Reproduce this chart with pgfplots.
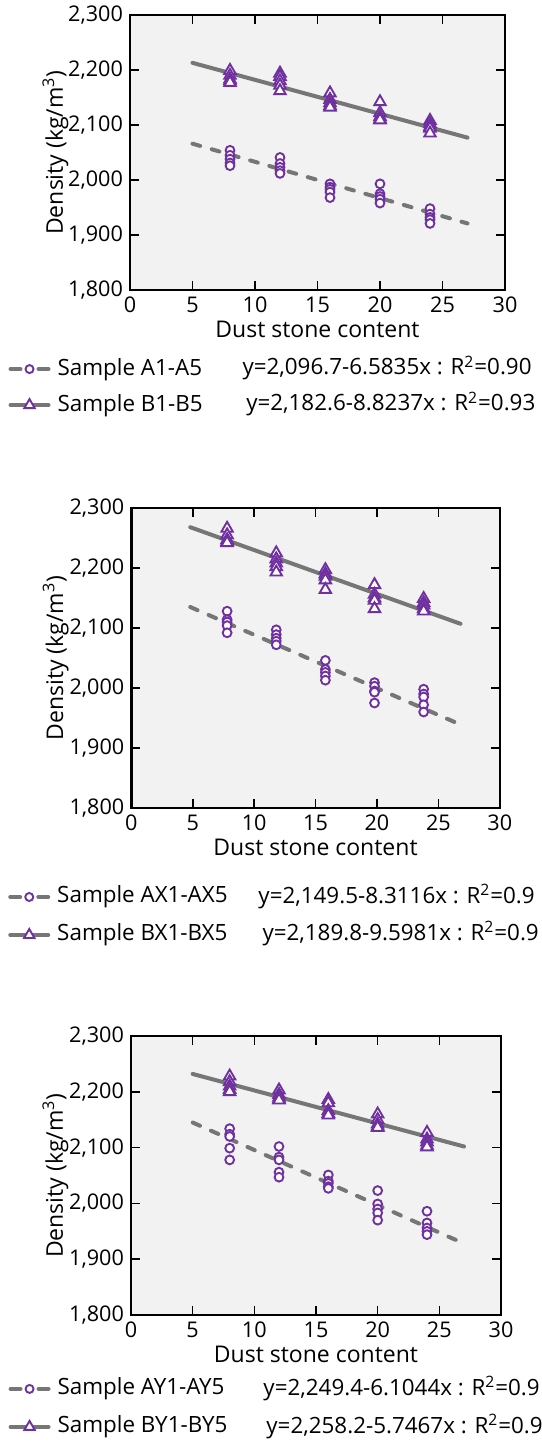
\documentclass[border=0pt]{standalone}
\usepackage{fontspec}
\setmainfont{Open Sans}
\usepackage{pgfplots}
\pgfplotsset{compat=1.18}
\definecolor{mkpurple}{RGB}{112,48,160}
\definecolor{fitgray}{RGB}{118,118,118}
\definecolor{bggray}{RGB}{242,242,242}

\tikzset{eqnode/.style={anchor=base west, inner sep=0pt, font=\fontsize{11.2}{13}\selectfont}}

\pgfplotsset{
  dsaxis/.style={
    scale only axis, anchor=north west, clip=false,
    xmin=0, xmax=30, ymin=1800, ymax=2300,
    xtick={0,5,...,30}, ytick={1800,1900,...,2300},
    axis background/.style={fill=bggray},
    axis line style={line width=1.3pt},
    major tick style={line width=0.8pt, black},
    major tick length=4.5pt, tick align=inside,
    /pgf/number format/assume math mode=true,
    /pgf/number format/1000 sep={,},
    ticklabel style={font=\fontsize{10.8}{12}\selectfont},
    label style={font=\fontsize{11.5}{13}\selectfont},
    xlabel={Dust stone content},
    ylabel={Density (kg/m\textsuperscript{3})},
    xlabel style={yshift=3pt},
    legend cell align=left,
    legend style={draw=none, fill=none, anchor=west, inner sep=0pt,
      font=\fontsize{11.2}{13}\selectfont, column sep=3.5pt,
      nodes={inner sep=0pt, text height=8.5pt, text depth=2.5pt}},
    legend image code/.code={
      \draw[mark repeat=2, mark phase=2, #1]
        plot coordinates {(0pt,0pt) (9.5pt,0pt) (19pt,0pt)};},
  },
  fitA/.style={fitgray, line width=2pt, line cap=round, dash pattern=on 4pt off 6pt},
  fitB/.style={fitgray, line width=2pt, line cap=round},
  ptsA/.style={only marks, mark=*, mark size=2.2pt,
    mark options={draw=mkpurple, fill=white, line width=0.95pt}},
  ptsB/.style={only marks, mark=triangle*, mark size=3.3pt,
    mark options={draw=mkpurple, fill=white, line width=0.95pt}},
  legA/.style={fitgray, line width=2pt, line cap=round, dash pattern=on 5pt off 9pt,
    mark=*, mark size=2pt, mark options={solid, draw=mkpurple, fill=white, line width=0.95pt}},
  legB/.style={fitgray, line width=2pt, line cap=round,
    mark=triangle*, mark size=3pt, mark options={solid, draw=mkpurple, fill=white, line width=0.95pt}},
}

\begin{document}
\begin{tikzpicture}
\useasboundingbox (0,0) rectangle (270.5pt,-721.5pt);

% ---- panel 1: A1-A5 / B1-B5
\begin{axis}[dsaxis, at={(65pt,-7.5pt)}, width=187.5pt, height=137.5pt,
  ylabel style={at={(axis description cs:-0.179,0.5)}, anchor=base},
  legend style={at={(axis description cs:-0.325,-0.353)}, row sep=7pt}]
\addlegendimage{legA}\addlegendentry{Sample A1-A5}
\addlegendimage{legB}\addlegendentry{Sample B1-B5}
\addplot[fitA, forget plot] coordinates {(5,2066) (27,1921)};
\addplot[fitB, forget plot] coordinates {(5,2213) (27,2077)};
\addplot[ptsA, forget plot] coordinates {
  (8,2054) (8,2045) (8,2038) (8,2031) (8,2026)
  (12,2041) (12,2030) (12,2023) (12,2017) (12,2012)
  (16,1993) (16,1987) (16,1983) (16,1978) (16,1968)
  (20,1993) (20,1975) (20,1970) (20,1965) (20,1958)
  (24,1948) (24,1938) (24,1932) (24,1928) (24,1921)};
\addplot[ptsB, forget plot] coordinates {
  (8,2199) (8,2190) (8,2183) (8,2180) (8,2177)
  (12,2194) (12,2188) (12,2180) (12,2172) (12,2162)
  (16,2158) (16,2146) (16,2140) (16,2135) (16,2132)
  (20,2142) (20,2122) (20,2115) (20,2111) (20,2109)
  (24,2108) (24,2102) (24,2097) (24,2094) (24,2085)};
\node[eqnode] at (axis description cs:0.299,-0.309) {y=2,096.7-6.5835x : R\textsuperscript{2}=0.90};
\node[eqnode] at (axis description cs:0.309,-0.440) {y=2,182.6-8.8237x : R\textsuperscript{2}=0.93};
\end{axis}

% ---- panel 2: AX1-AX5 / BX1-BX5
\begin{axis}[dsaxis, at={(65.65pt,-254pt)}, width=184.25pt, height=150pt,
  ylabel style={at={(axis description cs:-0.185,0.5)}, anchor=base},
  legend style={at={(axis description cs:-0.335,-0.36)}, row sep=8pt}]
\addlegendimage{legA}\addlegendentry{Sample AX1-AX5}
\addlegendimage{legB}\addlegendentry{Sample BX1-BX5}
\addplot[fitA, forget plot] coordinates {(4.8,2135) (26.8,1939)};
\addplot[fitB, forget plot] coordinates {(4.8,2268) (26.8,2107)};
\addplot[ptsA, forget plot] coordinates {
  (7.8,2128) (7.8,2114) (7.8,2110) (7.8,2104) (7.8,2092)
  (11.8,2097) (11.8,2089) (11.8,2083) (11.8,2078) (11.8,2072)
  (15.8,2046) (15.8,2031) (15.8,2026) (15.8,2020) (15.8,2013)
  (19.8,2009) (19.8,2003) (19.8,1995) (19.8,1993) (19.8,1975)
  (23.8,1998) (23.8,1990) (23.8,1985) (23.8,1972) (23.8,1960)};
\addplot[ptsB, forget plot] coordinates {
  (7.8,2266) (7.8,2255) (7.8,2247) (7.8,2244) (7.8,2242)
  (11.8,2225) (11.8,2215) (11.8,2208) (11.8,2202) (11.8,2193)
  (15.8,2197) (15.8,2190) (15.8,2186) (15.8,2180) (15.8,2164)
  (19.8,2172) (19.8,2156) (19.8,2150) (19.8,2146) (19.8,2132)
  (23.8,2149) (23.8,2142) (23.8,2138) (23.8,2132) (23.8,2128)};
\node[eqnode] at (axis description cs:0.344,-0.317) {y=2,149.5-8.3116x : R\textsuperscript{2}=0.9};
\node[eqnode] at (axis description cs:0.355,-0.443) {y=2,189.8-9.5981x : R\textsuperscript{2}=0.9};
\end{axis}

% ---- panel 3: AY1-AY5 / BY1-BY5
\begin{axis}[dsaxis, at={(65.5pt,-518pt)}, width=185pt, height=139.5pt,
  ylabel style={at={(axis description cs:-0.184,0.5)}, anchor=base},
  legend style={at={(axis description cs:-0.332,-0.333)}, row sep=8pt}]
\addlegendimage{legA}\addlegendentry{Sample AY1-AY5}
\addlegendimage{legB}\addlegendentry{Sample BY1-BY5}
\addplot[fitA, forget plot] coordinates {(5,2145) (27,1928)};
\addplot[fitB, forget plot] coordinates {(5,2232) (27,2102)};
\addplot[ptsA, forget plot] coordinates {
  (8,2134) (8,2124) (8,2120) (8,2099) (8,2078)
  (12,2102) (12,2083) (12,2078) (12,2056) (12,2047)
  (16,2051) (16,2040) (16,2036) (16,2030) (16,2027)
  (20,2023) (20,1999) (20,1990) (20,1983) (20,1970)
  (24,1986) (24,1965) (24,1956) (24,1950) (24,1944)};
\addplot[ptsB, forget plot] coordinates {
  (8,2228) (8,2218) (8,2210) (8,2204) (8,2200)
  (12,2203) (12,2195) (12,2190) (12,2187) (12,2185)
  (16,2186) (16,2180) (16,2166) (16,2161) (16,2158)
  (20,2160) (20,2150) (20,2142) (20,2138) (20,2136)
  (24,2127) (24,2115) (24,2110) (24,2104) (24,2101)};
\node[eqnode] at (axis description cs:0.357,-0.287) {y=2,249.4-6.1044x : R\textsuperscript{2}=0.9};
\node[eqnode] at (axis description cs:0.365,-0.423) {y=2,258.2-5.7467x : R\textsuperscript{2}=0.9};
\end{axis}
\end{tikzpicture}
\end{document}
